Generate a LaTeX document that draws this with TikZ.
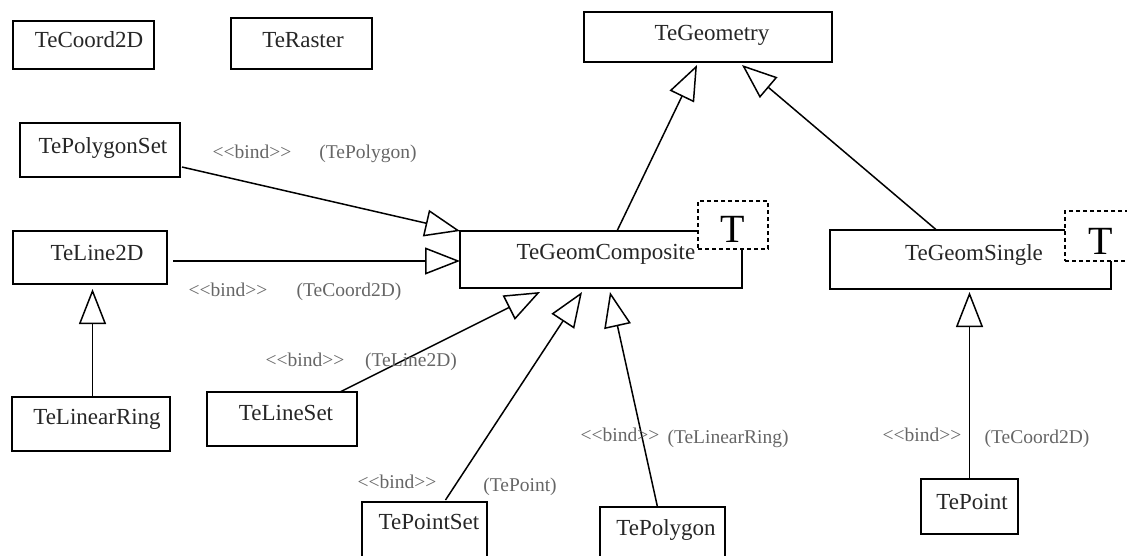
\documentclass[tikz,border=0pt]{standalone}
\usepackage{fontspec}
\newfontfamily\boxf{Liberation Serif}
\newfontfamily\lblf{Liberation Serif}
\usetikzlibrary{arrows.meta,calc}
\begin{document}
\begin{tikzpicture}[x=1pt,y=-1pt,
  cls/.style={draw, line width=1.5pt, inner sep=0pt, outer sep=0pt, fill=white},
  ctext/.style={anchor=base, inner sep=0pt, font=\boxf\fontsize{23}{23}\selectfont, text=black!85},
  lbl/.style={anchor=base, inner sep=0pt, font=\lblf\fontsize{19.5}{19.5}\selectfont, text=black!60},
  tbox/.style={draw, dash pattern=on 4pt off 3pt, line width=2pt, fill=white, inner sep=0pt, outer sep=0pt},
  tlet/.style={anchor=base, inner sep=0pt, font=\boxf\fontsize{40}{40}\selectfont},
  inh/.style={line width=1.5pt, -{Triangle[open, length=35pt, width=27pt, line width=1.5pt]}}
]
\useasboundingbox (0,0) rectangle (1127,555);

% classes
\node[cls, minimum width=141pt, minimum height=48pt] (coord) at (83.5,45) {};
\node[ctext] (coord-t) at (89,47) {TeCoord2D};
\node[cls, minimum width=141pt, minimum height=51pt] (raster) at (301.5,43.5) {};
\node[ctext] (raster-t) at (303,47) {TeRaster};
\node[cls, minimum width=248pt, minimum height=50pt] (geom) at (708,37) {};
\node[ctext] (geom-t) at (712,40) {TeGeometry};
\node[cls, minimum width=160pt, minimum height=54pt] (pset) at (100,150) {};
\node[ctext] (pset-t) at (103,153) {TePolygonSet};
\node[cls, minimum width=154pt, minimum height=53pt] (l2d) at (90,257.5) {};
\node[ctext] (l2d-t) at (97,260) {TeLine2D};
\node[cls, minimum width=282pt, minimum height=57pt] (comp) at (601,259.5) {};
\node[ctext] (comp-t) at (606,259) {TeGeomComposite};
\node[cls, minimum width=281pt, minimum height=59pt] (single) at (970.5,259.5) {};
\node[ctext] (single-t) at (974,260) {TeGeomSingle};
\node[cls, minimum width=158pt, minimum height=54pt] (ring) at (91,424) {};
\node[ctext] (ring-t) at (97,424) {TeLinearRing};
\node[cls, minimum width=150pt, minimum height=54pt] (lineset) at (282,419) {};
\node[ctext] (lineset-t) at (286,420) {TeLineSet};
\node[cls, minimum width=125pt, minimum height=58pt] (pointset) at (424.5,531) {};
\node[ctext] (pointset-t) at (429,529) {TePointSet};
\node[cls, minimum width=125pt, minimum height=58pt] (polygon) at (662.5,536) {};
\node[ctext] (polygon-t) at (666,535) {TePolygon};
\node[cls, minimum width=97pt, minimum height=55pt] (point) at (969.5,506.5) {};
\node[ctext] (point-t) at (972,509) {TePoint};

% template parameter boxes
\node[tbox, minimum width=70pt, minimum height=48pt] (tc) at (733,225) {};
\node[tlet] (tc-t) at (733,242) {T};
\node[tbox, minimum width=70pt, minimum height=50pt] (ts) at (1100,236) {};
\node[tlet] (ts-t) at (1101,254) {T};

% connectors
\draw[inh] ($(pset.east)+(2,17)$) -- (comp.north west);
\draw[inh] ($(l2d.east)+(6,3.5)$) -- ($(comp.west)+(0,1.5)$);
\draw[inh] ($(comp.north)+(16,0)$) -- ($(geom.south)+(-11,3)$);
\draw[inh] ($(single.north)+(-34,0)$) -- ($(geom.south)+(34,3)$);
\draw[inh] ($(ring.north)+(1.5,0)$) -- ($(l2d.south)+(2.5,5)$);
\draw[inh] ($(lineset.north)+(58,0)$) -- ($(comp.south)+(-61,4)$);
\draw[inh] ($(pointset.north)+(21,-2)$) -- ($(comp.south)+(-19,4)$);
\draw[inh] ($(polygon.north)+(-5,0)$) -- ($(comp.south)+(9,4)$);
\draw[inh] (point.north) -- ($(single.south)+(-1,3)$);

% labels
\node[lbl] (b1) at (252,158) {<<bind>>};
\node[lbl] (p1) at (368,158) {(TePolygon)};
\node[lbl] (b2) at (228,296) {<<bind>>};
\node[lbl] (p2) at (349,296) {(TeCoord2D)};
\node[lbl] (b3) at (305,366) {<<bind>>};
\node[lbl] (p3) at (411,366) {(TeLine2D)};
\node[lbl] (b4) at (397,488) {<<bind>>};
\node[lbl] (p4) at (520,491) {(TePoint)};
\node[lbl] (b5) at (620,441) {<<bind>>};
\node[lbl] (p5) at (728,443) {(TeLinearRing)};
\node[lbl] (b6) at (922,441) {<<bind>>};
\node[lbl] (p6) at (1037,443) {(TeCoord2D)};
\end{tikzpicture}
\end{document}
